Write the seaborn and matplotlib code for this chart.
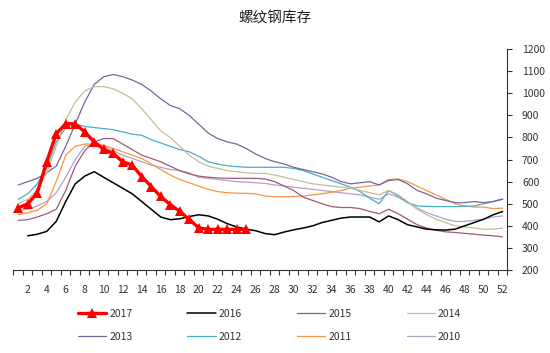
import matplotlib
matplotlib.use("Agg")
import matplotlib.pyplot as plt
from matplotlib.ticker import FixedLocator, NullFormatter
import seaborn as sns
import pandas as pd
import numpy as np

# weekly rebar inventory
weeks = list(range(1, 53))
years = ["2017", "2016", "2015", "2014", "2013", "2012", "2011", "2010"]

inv_2017 = [481, 500, 548, 690, 817, 862, 862, 825, 780, 746, 728, 690, 675,
            623, 578, 533, 496, 466, 429, 391, 384, 384, 384, 384, 384]
inv_2016 = [None, 355, 362, 375, 420, 510, 590, 625, 645, 620, 595, 570, 545,
            510, 475, 440, 428, 432, 442, 450, 445, 430, 410, 395, 385, 378,
            365, 360, 372, 382, 390, 400, 415, 425, 435, 440, 440, 440, 418,
            445, 428, 405, 395, 385, 382, 381, 385, 400, 415, 430, 450, 465]
inv_2015 = [425, 428, 440, 455, 475, 560, 670, 740, 780, 795, 795, 770, 745,
            720, 705, 690, 670, 650, 635, 625, 620, 617, 615, 615, 615, 615,
            612, 600, 580, 560, 530, 515, 500, 487, 483, 483, 478, 465, 455,
            475, 455, 430, 405, 390, 380, 373, 370, 366, 362, 358, 355, 350]
inv_2014 = [500, 520, 560, 640, 760, 880, 960, 1010, 1030, 1030, 1020, 1000,
            975, 930, 880, 830, 800, 760, 720, 690, 670, 660, 650, 645, 640,
            638, 637, 630, 620, 610, 600, 590, 585, 580, 575, 570, 560, 550,
            540, 560, 540, 510, 475, 450, 430, 415, 400, 395, 390, 385, 385, 390]
inv_2013 = [585, 600, 615, 640, 670, 760, 860, 960, 1040, 1075, 1085, 1075,
            1060, 1040, 1010, 975, 945, 930, 900, 860, 820, 795, 780, 770, 750,
            725, 705, 690, 680, 665, 655, 645, 635, 620, 600, 590, 595, 600,
            585, 605, 610, 590, 560, 545, 525, 515, 505, 505, 510, 505, 510, 520]
inv_2012 = [520, 545, 590, 660, 780, 845, 860, 850, 845, 840, 835, 825, 815,
            810, 790, 775, 760, 745, 735, 715, 690, 680, 672, 668, 665, 665,
            665, 665, 665, 660, 650, 635, 620, 605, 590, 575, 555, 525, 500,
            560, 535, 505, 490, 488, 487, 487, 487, 488, 490, 500, 510, 522]
inv_2011 = [450, 460, 470, 500, 600, 720, 760, 770, 770, 765, 750, 735, 720,
            705, 680, 655, 630, 610, 595, 580, 565, 555, 550, 548, 547, 545,
            535, 532, 532, 533, 535, 540, 545, 552, 560, 570, 575, 580, 585,
            610, 612, 600, 580, 560, 540, 520, 500, 490, 485, 485, 478, 480]
inv_2010 = [470, 475, 490, 510, 550, 620, 700, 760, 770, 760, 740, 720, 705,
            690, 675, 665, 655, 650, 640, 620, 615, 610, 605, 600, 598, 595,
            592, 585, 580, 575, 570, 565, 560, 555, 550, 545, 540, 530, 520,
            545, 530, 505, 480, 460, 445, 430, 420, 420, 425, 430, 440, 445]

series = {"2017": inv_2017, "2016": inv_2016, "2015": inv_2015, "2014": inv_2014,
          "2013": inv_2013, "2012": inv_2012, "2011": inv_2011, "2010": inv_2010}

colors = {"2017": "#FF0000", "2016": "#000000", "2015": "#A05A78",
          "2014": "#C4BD97", "2013": "#75679A", "2012": "#4BACC6",
          "2011": "#F79646", "2010": "#B3A2C7"}

rows = []
for yr, vals in series.items():
    for w, v in zip(weeks, vals):
        if v is not None:
            rows.append({"week": w, "inventory": v, "year": yr})
df = pd.DataFrame(rows)

sns.set_style("white")
plt.rcParams["font.family"] = ["Noto Sans CJK SC", "DejaVu Sans"]

fig = plt.figure(figsize=(5.5, 3.53), dpi=100)
ax = fig.add_axes([0.0245, 0.235, 0.898, 0.626])

for yr in years[::-1]:
    sub = df[df["year"] == yr]
    if yr == "2017":
        sns.lineplot(data=sub, x="week", y="inventory", ax=ax, color=colors[yr],
                     linewidth=2.4, marker="^", markersize=7, markeredgewidth=0,
                     label=yr, zorder=5)
    else:
        lw = 1.1 if yr == "2016" else 0.9
        sns.lineplot(data=sub, x="week", y="inventory", ax=ax, color=colors[yr],
                     linewidth=lw, label=yr)

ax.set_xlim(0.5, 52.5)
ax.set_ylim(200, 1200)
ax.set_xlabel("")
ax.set_ylabel("")

# y axis on the right
ax.yaxis.tick_right()
ax.set_yticks(range(200, 1201, 100))
ax.tick_params(axis="y", direction="out", length=3.5, width=0.8, color="#333333",
               labelsize=7.5, labelcolor="#333333", pad=7, left=False, right=True)

# category style x axis: ticks between weeks, labels on even weeks
ax.xaxis.set_major_locator(FixedLocator(np.arange(0.5, 53, 1)))
ax.xaxis.set_major_formatter(NullFormatter())
ax.xaxis.set_minor_locator(FixedLocator(weeks[1::2]))
ax.set_xticklabels([str(w) for w in weeks[1::2]], minor=True)
ax.tick_params(axis="x", which="major", direction="out", length=3.5, width=0.8,
               color="#333333", bottom=True)
ax.tick_params(axis="x", which="minor", length=0, labelsize=7.5,
               labelcolor="#333333", pad=11)

for side in ["left", "top"]:
    ax.spines[side].set_visible(False)
for side in ["right", "bottom"]:
    ax.spines[side].set_color("#333333")
    ax.spines[side].set_linewidth(0.8)

fig.text(0.5, 0.949, "螺纹钢库存", ha="center", va="center", fontsize=10.5,
         color="#222222")

# legend in row order: 2017 2016 2015 2014 / 2013 2012 2011 2010
h, l = ax.get_legend_handles_labels()
lookup = dict(zip(l, h))
order = ["2017", "2013", "2016", "2012", "2015", "2011", "2014", "2010"]
ax.legend([lookup[k] for k in order], order, ncol=4, frameon=False,
          loc="center", bbox_to_anchor=(0.49, 0.078), bbox_transform=fig.transFigure,
          fontsize=7.5, handlelength=2.7, handletextpad=0.3, columnspacing=5.3,
          labelspacing=1.25, labelcolor="#333333")

fig.savefig("out.png", dpi=100)
